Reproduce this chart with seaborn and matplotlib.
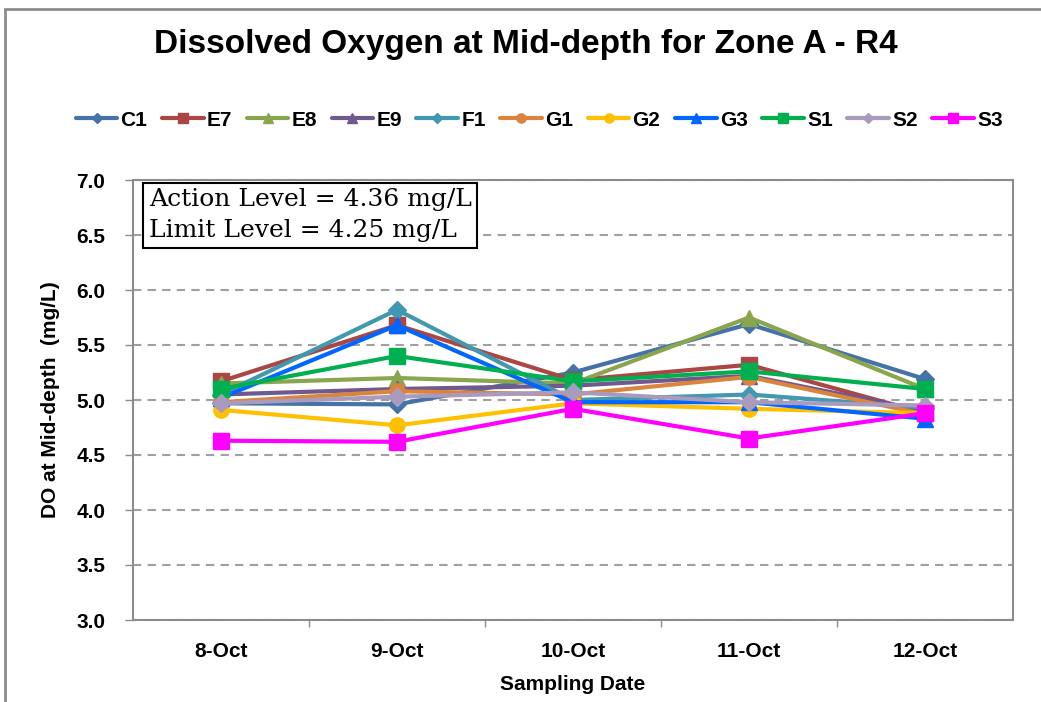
import matplotlib
matplotlib.use("Agg")
import matplotlib.pyplot as plt
import seaborn as sns
import pandas as pd
from matplotlib.patches import Rectangle
from matplotlib.lines import Line2D
from matplotlib.ticker import FixedLocator, MultipleLocator

dates = ["8-Oct", "9-Oct", "10-Oct", "11-Oct", "12-Oct"]
stations = ["C1", "E7", "E8", "E9", "F1", "G1", "G2", "G3", "S1", "S2", "S3"]

C1 = [4.97, 4.96, 5.25, 5.69, 5.19]
E7 = [5.17, 5.68, 5.18, 5.32, 4.88]
E8 = [5.15, 5.20, 5.15, 5.75, 5.10]
E9 = [5.05, 5.10, 5.13, 5.22, 4.90]
F1 = [5.05, 5.82, 5.00, 5.05, 4.93]
G1 = [4.98, 5.08, 5.05, 5.21, 4.87]
G2 = [4.91, 4.77, 4.97, 4.92, 4.88]
G3 = [5.02, 5.68, 4.98, 4.98, 4.83]
S1 = [5.10, 5.40, 5.17, 5.26, 5.10]
S2 = [4.97, 5.03, 5.07, 4.98, 4.95]
S3 = [4.63, 4.62, 4.92, 4.65, 4.88]
series = [C1, E7, E8, E9, F1, G1, G2, G3, S1, S2, S3]

colors = ["#4572A7", "#AA4643", "#89A54E", "#71588F", "#4198AF", "#DB843D",
          "#FFC000", "#0066FF", "#00B050", "#A99BBD", "#FF00FF"]
markers = ["D", "s", "^", "^", "D", "o", "o", "^", "s", "D", "s"]
msizes = [9, 11, 12, 12, 9, 11, 11, 12, 11, 9, 11]

df = pd.DataFrame([(s, d, v) for s, vals in zip(stations, series)
                   for d, v in zip(dates, vals)],
                  columns=["Station", "Date", "DO"])

sns.set_theme(style="white")
plt.rcParams['font.family'] = ['Liberation Sans', 'DejaVu Sans']
plt.rcParams['text.color'] = 'black'
plt.rcParams['axes.labelcolor'] = 'black'
plt.rcParams['xtick.color'] = 'black'
plt.rcParams['ytick.color'] = 'black'

fig = plt.figure(figsize=(10.41, 7.02), dpi=100)
ax = fig.add_axes([133/1041, 82/702, 880/1041, 440/702])

for st, c, m, ms in zip(stations, colors, markers, msizes):
    sub = df[df["Station"] == st]
    sns.lineplot(data=sub, x="Date", y="DO", ax=ax, color=c, marker=m,
                 markersize=ms, markeredgecolor=c, markeredgewidth=1,
                 linewidth=3, sort=False, legend=False, zorder=3)

ax.set_xlim(-0.5, 4.5)
ax.set_ylim(3.0, 7.0)
ax.yaxis.set_major_locator(MultipleLocator(0.5))
ax.yaxis.set_major_formatter(matplotlib.ticker.FormatStrFormatter("%.1f"))
ax.set_xticks(range(len(dates)))
ax.set_xticklabels(dates)
ax.xaxis.set_minor_locator(FixedLocator([0.5, 1.5, 2.5, 3.5]))
ax.tick_params(axis="x", which="major", length=0, pad=16, labelsize=15,
               labelcolor="black")
ax.tick_params(axis="x", which="minor", length=5, width=1, color="#8c8c8c",
               direction="out", bottom=True)
ax.tick_params(axis="y", which="major", length=6, width=1, color="#8c8c8c",
               direction="out", left=True, pad=14, labelsize=15,
               labelcolor="black")
for lab in ax.get_xticklabels() + ax.get_yticklabels():
    lab.set_fontweight("bold")

ax.grid(axis="y", color="#A0A0A0", linestyle=(0, (4, 3)), linewidth=1.5, zorder=0)
ax.set_axisbelow(True)
for sp in ax.spines.values():
    sp.set_color("#8c8c8c")
    sp.set_linewidth(1.5)

ax.set_xlabel("Sampling Date", fontsize=15, fontweight="bold", labelpad=10)
ax.set_ylabel("DO at Mid-depth  (mg/L)", fontsize=15, fontweight="bold", labelpad=12)

fig.text(0.505, 1 - 45/702, "Dissolved Oxygen at Mid-depth for Zone A - R4",
         ha="center", va="center", fontsize=24, fontweight="bold")

ax.text(0.018, 0.981, "Action Level = 4.36 mg/L\nLimit Level = 4.25 mg/L",
        transform=ax.transAxes, ha="left", va="top", fontsize=18,
        family=["DejaVu Serif"], linespacing=1.45,
        bbox=dict(boxstyle="square,pad=0.22", fc="white", ec="black", lw=1.5),
        zorder=5)

handles = [Line2D([0], [0], color=c, marker=m, markersize=ms * 0.6,
                  markeredgecolor=c, linewidth=3)
           for c, m, ms in zip(colors, markers, msizes)]
fig.legend(handles, stations, loc="center", bbox_to_anchor=(0.518, 1 - 120/702),
           ncol=11, frameon=False, handlelength=2.0, handletextpad=0.15,
           columnspacing=0.7, prop={"weight": "bold", "size": 15})

fig.patches.append(Rectangle((5/1041, -0.01), 1.05, 1 - 9/702 + 0.01,
                             transform=fig.transFigure, fill=False,
                             ec="#8c8c8c", lw=2))

fig.savefig("out.png", dpi=100)
